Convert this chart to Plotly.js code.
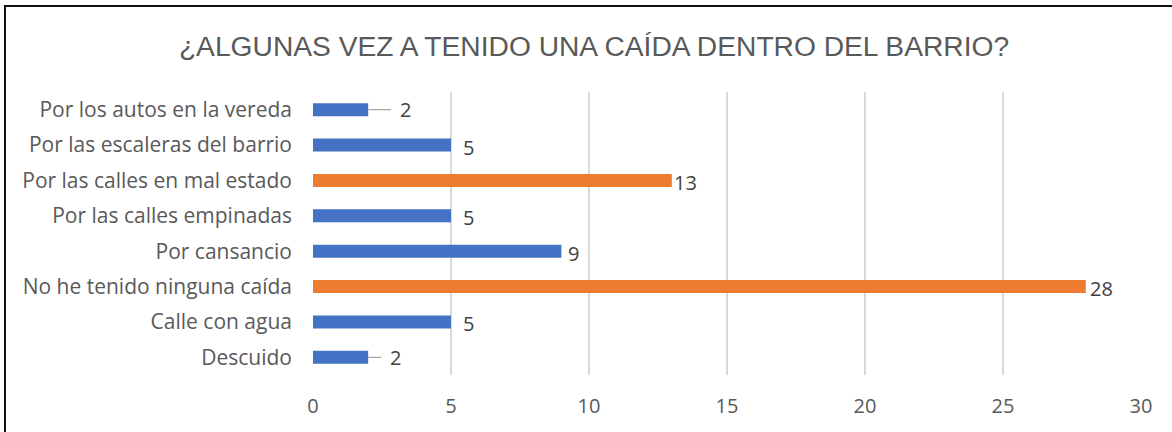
<!DOCTYPE html>
<html>
<head>
<meta charset="utf-8">
<script src="https://cdn.plot.ly/plotly-3.0.1.min.js"></script>
<style>
  html, body { margin: 0; padding: 0; background: #fff; }
  #wrap { position: relative; width: 1172px; height: 432px; overflow: hidden; }
  #chart { width: 1172px; height: 432px; }
  #frame { position: absolute; left: 4px; top: 5px; width: 1200px; height: 460px;
           border-left: 2px solid #111; border-top: 2px solid #111; pointer-events: none; }
</style>
</head>
<body>
<div id="wrap"><div id="chart"></div><div id="frame"></div></div>
<script>
const categories = [
  "Descuido",
  "Calle con agua",
  "No he tenido ninguna caída",
  "Por cansancio",
  "Por las calles empinadas",
  "Por las calles en mal estado",
  "Por las escaleras del barrio",
  "Por los autos en la vereda"
];
const values = [2, 5, 28, 9, 5, 13, 5, 2];
const xTicks = [0, 5, 10, 15, 20, 25, 30];
const titleText = "¿ALGUNAS VEZ A TENIDO UNA CAÍDA DENTRO DEL BARRIO?";

const BLUE = "#4472C4", ORANGE = "#ED7D31";
const barColors = [BLUE, BLUE, ORANGE, BLUE, BLUE, ORANGE, BLUE, BLUE];
// label offsets (px) to the right of each bar end, as placed in the reference
const labelShift = [27, 17, 16, 12, 17, 14, 17, 37];

const FONT = "Open Sans, Noto Sans, sans-serif";
const TXT = "#404040";

const annotations = categories.map((c, i) => {
  const v = values[i];
  if (v <= 2) {
    return {
      x: v, y: c, xref: "x", yref: "y", text: String(v),
      showarrow: true, arrowhead: 0, arrowwidth: 1.3, arrowcolor: "#a6a6a6",
      ax: labelShift[i], ay: 0, standoff: 0, startstandoff: 7,
      font: { family: FONT, size: 20, color: TXT }
    };
  }
  return {
    x: v, y: c, xref: "x", yref: "y", text: String(v),
    showarrow: false, xanchor: "center", yanchor: "middle",
    xshift: labelShift[i], yshift: -2,
    font: { family: FONT, size: 20, color: TXT }
  };
});

const trace = {
  type: "bar",
  orientation: "h",
  y: categories,
  x: values,
  width: 0.37,
  marker: { color: barColors },
  hoverinfo: "x+y"
};

const layout = {
  width: 1172, height: 432,
  margin: { l: 313, r: 31, t: 92, b: 57 },
  paper_bgcolor: "#ffffff", plot_bgcolor: "#ffffff",
  showlegend: false,
  title: {
    text: titleText,
    x: 594 / 1172, xref: "container", xanchor: "center",
    y: 45, yref: "container", yanchor: "middle",
    font: { family: "Liberation Sans, Arial, sans-serif", size: 28.2, color: "#595959" }
  },
  xaxis: {
    range: [0, 30], tickvals: xTicks, ticktext: xTicks.map(String),
    showgrid: true, gridcolor: "#d9d9d9", gridwidth: 1.3,
    zeroline: false, showline: false, ticks: "",
    ticklabelstandoff: 17,
    tickfont: { family: FONT, size: 20, color: "#595959" },
    fixedrange: true
  },
  yaxis: {
    type: "category", categoryorder: "array", categoryarray: categories,
    range: [-0.5, categories.length - 0.5],
    showgrid: false, zeroline: false, showline: false, ticks: "",
    ticklabelstandoff: 20,
    tickfont: { family: FONT, size: 21, color: "#595959" },
    fixedrange: true
  },
  annotations: annotations
};

Plotly.newPlot("chart", [trace], layout, { displayModeBar: false, staticPlot: true });
</script>
</body>
</html>
